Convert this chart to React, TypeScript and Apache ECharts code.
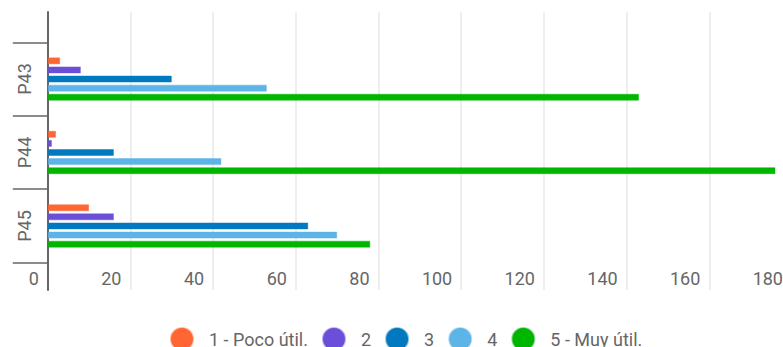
import React, { useEffect, useRef } from "react";
import * as echarts from "echarts";

const categories = ["P43", "P44", "P45"];
const seriesNames = ["1 - Poco útil.", "2", "3", "4", "5 - Muy útil."];
const colors = ["#FF6633", "#6B4FD8", "#0079BF", "#5DB4E6", "#00B600"];
const halo = [
  "rgba(255,102,51,0.45)",
  "rgba(107,79,216,0.45)",
  "rgba(0,121,191,0.45)",
  "rgba(93,180,230,0.45)",
  "rgba(0,182,0,0.45)",
];
const values1 = [3, 2, 10];
const values2 = [8, 1, 16];
const values3 = [30, 16, 63];
const values4 = [53, 42, 70];
const values5 = [143, 176, 78];
const allValues = [values1, values2, values3, values4, values5];
const xMin = 0;
const xMax = 180;
const xStep = 20;

export default function App() {
  const ref = useRef<HTMLDivElement>(null);
  useEffect(() => {
    if (!ref.current) return;
    const chart = echarts.init(ref.current, undefined, { renderer: "svg" });
    const font = "Roboto";
    const gridLeft = 47.8;
    const gridRight = 8;
    chart.setOption({
      animation: false,
      backgroundColor: "#ffffff",
      textStyle: { fontFamily: font },
      legend: {
        left: 165,
        top: 322,
        icon: "circle",
        itemWidth: 22,
        itemHeight: 22,
        itemGap: 14,
        selectedMode: false,
        textStyle: {
          fontFamily: font,
          fontSize: 18,
          lineHeight: 14,
          color: "#666666",
          padding: [0, 0, 4, 11],
        },
        data: seriesNames,
      },
      grid: [
        { left: gridLeft, right: gridRight, top: 12, bottom: 57 },
        { left: gridLeft, right: gridRight, top: 42.3, bottom: 84.3 },
      ],
      xAxis: [
        {
          gridIndex: 0,
          type: "value",
          min: xMin,
          max: xMax,
          interval: xStep,
          axisLine: { show: false },
          axisTick: { show: false },
          axisLabel: { show: false },
          splitLine: { show: true, lineStyle: { color: "#e8e8e8", width: 1.5 } },
        },
        {
          gridIndex: 1,
          type: "value",
          min: xMin,
          max: xMax,
          interval: xStep,
          axisLine: { show: false },
          axisTick: { show: false },
          splitLine: { show: false },
          axisLabel: {
            show: true,
            fontFamily: font,
            fontSize: 18,
            color: "#666666",
            align: "right",
            padding: [0, 9, 0, 0],
            margin: 7,
          },
        },
      ],
      yAxis: [
        {
          gridIndex: 0,
          type: "value",
          min: 0,
          max: 1,
          axisLine: { show: true, lineStyle: { color: "#666666", width: 2 } },
          axisTick: { show: false },
          axisLabel: { show: false },
          splitLine: { show: false },
        },
        {
          gridIndex: 1,
          type: "category",
          data: categories,
          inverse: true,
          axisLine: { show: true, lineStyle: { color: "#666666", width: 2 } },
          axisTick: { show: true, length: 35, lineStyle: { color: "#666666", width: 1.5 } },
          axisLabel: {
            show: true,
            rotate: 90,
            margin: 14,
            fontFamily: font,
            fontSize: 18,
            color: "#666666",
          },
          splitLine: { show: false },
        },
      ],
      series: allValues.map((vals, i) => ({
        name: seriesNames[i],
        type: "bar",
        xAxisIndex: 1,
        yAxisIndex: 1,
        data: vals,
        barWidth: 7,
        barGap: "30%",
        itemStyle: { color: colors[i], borderColor: halo[i], borderWidth: 1 },
      })),
    });
    return () => chart.dispose();
  }, []);
  return (
    <div
      style={{
        position: "fixed",
        left: 0,
        top: 0,
        width: 783,
        height: 347,
        overflow: "hidden",
        background: "#fff",
      }}
    >
      <div ref={ref} style={{ width: 800, height: 347 }} />
    </div>
  );
}
